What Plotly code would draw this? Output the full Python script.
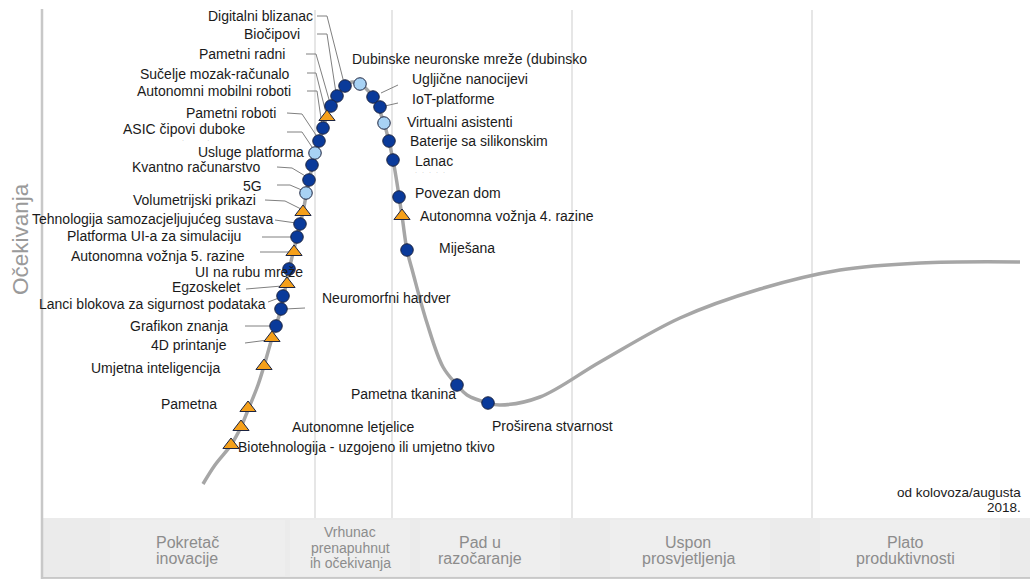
import plotly.graph_objects as go

# ---------------- data ----------------
# Hype-cycle curve: time position vs. expectations (screen-like units, y grows downward)
curve_time = [203, 215, 231, 241, 248, 258, 264, 272, 281, 289, 297, 303, 309, 316, 323, 331,
              345, 352, 360, 373, 384, 393, 402, 407, 413, 427, 443, 457, 467, 488, 500, 540,
              600, 680, 760, 840, 920, 1020]
curve_expect = [484, 465, 445, 427, 410, 385, 366, 338, 309, 270, 237, 212, 180, 153, 128, 106,
                86, 82, 84, 97, 123, 160, 216, 250, 273, 323, 367, 385, 395, 403, 405, 397,
                362, 318, 289, 270, 263, 262]

tech_names = [
    "Digitalni blizanac", "Biočipovi", "Pametni radni", "Sučelje mozak-računalo",
    "Autonomni mobilni roboti", "Pametni roboti", "ASIC čipovi duboke", "Usluge platforma",
    "Kvantno računarstvo", "5G", "Volumetrijski prikazi", "Tehnologija samozacjeljujućeg sustava",
    "Platforma UI-a za simulaciju", "Autonomna vožnja 5. razine", "UI na rubu mreže", "Egzoskelet",
    "Lanci blokova za sigurnost podataka", "Neuromorfni hardver", "Grafikon znanja", "4D printanje",
    "Umjetna inteligencija", "Pametna", "Autonomne letjelice",
    "Biotehnologija - uzgojeno ili umjetno tkivo",
    "Dubinske neuronske mreže (dubinsko", "Ugljične nanocijevi", "IoT-platforme",
    "Virtualni asistenti", "Baterije sa silikonskim", "Lanac", "Povezan dom",
    "Autonomna vožnja 4. razine", "Miješana", "Pametna tkanina", "Proširena stvarnost",
]
tech_time = [345, 337, 331, 327, 323, 319, 315, 312, 309, 306, 303, 300, 297, 294, 289, 287,
             283, 281, 276, 272, 264, 248, 241, 231,
             360, 373, 380, 384, 389, 393, 399, 402, 407, 457, 488]
tech_expect = [86, 96, 106, 117, 128, 141, 153, 165, 180, 193, 212, 224, 237, 252, 269, 284,
               296, 309, 326, 338, 366, 408, 427, 445,
               84, 97, 107, 123, 141, 160, 197, 216, 250, 385, 403]
# benefit class: 'a' dark blue circle, 'b' light blue circle, 'c' orange triangle
tech_kind = ["a", "a", "a", "c", "a", "a", "b", "a", "a", "b", "c", "a",
             "a", "c", "a", "c", "a", "a", "a", "c", "c", "c", "c", "c",
             "b", "a", "a", "b", "a", "a", "a", "c", "a", "a", "a"]

phase_names = [["Pokretač", "inovacije"],
               ["Vrhunac", "prenapuhnut", "ih očekivanja"],
               ["Pad u", "razočaranje"],
               ["Uspon", "prosvjetljenja"],
               ["Plato", "produktivnosti"]]
y_title = "Očekivanja"
date_note = ["od kolovoza/augusta", "2018."]

# ---------------- layout helpers (label placement) ----------------
# (anchor side, x, y) for each label
label_pos = [
    ("right", 315, 16), ("right", 302, 34), ("right", 287, 54), ("right", 292, 74),
    ("right", 293, 91), ("right", 278, 113), ("right", 247, 129), ("right", 306, 152),
    ("right", 263, 167), ("right", 264, 186), ("right", 258, 200), ("right", 275, 219),
    ("right", 243, 236), ("right", 247, 256), ("right", 305, 272), ("right", 243, 287),
    ("right", 268, 304), ("left", 320, 298), ("right", 230, 326), ("right", 229, 345),
    ("right", 222, 368), ("right", 219, 404), ("left", 290, 427), ("left", 236, 447),
    ("left", 350, 59), ("left", 410, 79), ("left", 410, 99), ("left", 405, 122),
    ("left", 408, 141), ("left", 413, 161), ("left", 413, 193), ("left", 418, 216),
    ("left", 437, 248), ("right", 458, 394), ("left", 490, 426),
]
# leader line polylines (start near label, end at marker)
leaders = [
    [(317, 16), (327, 16), (344, 83)],
    [(317, 34), (327, 34), (336, 93)],
    [(306, 54), (316, 54), (330, 103)],
    [(307, 73), (316, 73), (326, 113)],
    [(307, 91), (317, 91), (322, 125)],
    [(287, 113), (302, 114), (318, 138)],
    [(287, 132), (302, 132), (314, 150)],
    None,
    [(277, 167), (292, 168), (307, 177)],
    [(277, 185), (290, 185), (304, 191)],
    [(265, 200), (285, 201), (301, 209)],
    [(275, 220), (296, 223)],
    [(262, 237), (292, 237)],
    [(260, 252), (290, 252)],
    None,
    [(246, 289), (282, 286)],
    [(268, 302), (279, 298)],
    [(285, 309), (305, 308)],
    [(245, 326), (271, 326)],
    [(245, 343), (268, 340)],
    None, None, None, None,
    None,
    [(381, 93), (398, 85)],
    [(385, 106), (398, 103)],
    None, None, None, None, None, None, None, None,
]

FONT = "Liberation Sans, Arial, sans-serif"
fig = go.Figure()

# curve
fig.add_trace(go.Scatter(
    x=curve_time, y=curve_expect, mode="lines",
    line=dict(shape="spline", smoothing=1.0, color="#a6a6a6", width=3.5),
    hoverinfo="skip", showlegend=False))

# leader lines
lx, ly = [], []
for pts in leaders:
    if pts:
        for (a, b) in pts:
            lx.append(a)
            ly.append(b)
        lx.append(None)
        ly.append(None)
fig.add_trace(go.Scatter(x=lx, y=ly, mode="lines",
                         line=dict(color="#808080", width=1),
                         hoverinfo="skip", showlegend=False))

styles = {
    "a": dict(symbol="circle", size=12.5, color="#0a3a9a"),
    "b": dict(symbol="circle", size=12.5, color="#a8d2f4"),
    "c": dict(symbol="triangle-up", size=14, color="#f5a01a"),
}
for k in ["a", "b", "c"]:
    idx = [i for i, v in enumerate(tech_kind) if v == k]
    st = styles[k]
    fig.add_trace(go.Scatter(
        x=[tech_time[i] for i in idx], y=[tech_expect[i] for i in idx],
        mode="markers", text=[tech_names[i] for i in idx], hoverinfo="text",
        marker=dict(symbol=st["symbol"], size=st["size"], color=st["color"],
                    line=dict(color="#1c2440", width=1)),
        showlegend=False))

annotations = []
for name, (side, x, y) in zip(tech_names, label_pos):
    annotations.append(dict(x=x, y=y, xref="x", yref="y", text=name, showarrow=False,
                            xanchor=side, yanchor="middle",
                            font=dict(family=FONT, size=14, color="#1a1a1a")))
# clipped second lines (only a trace of them is visible)
annotations.append(dict(x=413, y=172, text="·   ·   ·   ·   ·", showarrow=False, xanchor="left",
                        yanchor="middle", font=dict(family=FONT, size=6, color="#999")))
annotations.append(dict(x=180, y=140, text="·              ·", showarrow=False, xanchor="left",
                        yanchor="middle", font=dict(family=FONT, size=6, color="#999")))

# phase labels in the bottom band
phase_centers = [187, 350, 480, 688, 905]
for names, cx in zip(phase_names, phase_centers):
    if len(names) == 3:
        ys, fs = [532, 548, 563], 14
    else:
        ys, fs = [542, 558], 16
    for t, yy in zip(names, ys):
        annotations.append(dict(x=cx, y=yy, text=t, showarrow=False, xanchor="center",
                                yanchor="middle", font=dict(family=FONT, size=fs, color="#8c8c8c")))

annotations.append(dict(x=1023, y=492, text=date_note[0], showarrow=False, xanchor="right",
                        yanchor="middle", font=dict(family=FONT, size=13.5, color="#1a1a1a")))
annotations.append(dict(x=1023, y=507, text=date_note[1], showarrow=False, xanchor="right",
                        yanchor="middle", font=dict(family=FONT, size=13.5, color="#1a1a1a")))
annotations.append(dict(x=20, y=239, text=y_title, showarrow=False, textangle=-90,
                        xanchor="center", yanchor="middle",
                        font=dict(family=FONT, size=22.5, color="#9a9a9a")))

shapes = []
# bottom band
shapes.append(dict(type="rect", x0=42, x1=1030, y0=518, y1=578, xref="x", yref="y",
                   fillcolor="#ebebeb", line=dict(width=0), layer="below"))
for a, b in [(110, 285), (290, 410), (420, 560), (610, 770), (820, 1000)]:
    shapes.append(dict(type="rect", x0=a, x1=b, y0=520, y1=576, xref="x", yref="y",
                       fillcolor="#eeeeee", line=dict(width=0), layer="below"))
shapes.append(dict(type="line", x0=42, x1=1030, y0=578, y1=578, xref="x", yref="y",
                   line=dict(color="#bdbdbd", width=1.5), layer="below"))
# vertical phase separators
for gx in [315, 392, 572, 812]:
    shapes.append(dict(type="line", x0=gx, x1=gx, y0=10, y1=518, xref="x", yref="y",
                       line=dict(color="#e6e6e6", width=2), layer="below"))
# left axis
shapes.append(dict(type="line", x0=42, x1=42, y0=9, y1=579, xref="x", yref="y",
                   line=dict(color="#c8c8c8", width=2.5), layer="below"))

fig.update_layout(
    width=1030, height=581,
    margin=dict(l=0, r=0, t=0, b=0),
    paper_bgcolor="white", plot_bgcolor="white",
    xaxis=dict(range=[0, 1030], visible=False, fixedrange=True),
    yaxis=dict(range=[581, 0], visible=False, fixedrange=True),
    shapes=shapes, annotations=annotations, showlegend=False,
)

fig.write_html("out.html", config={"displayModeBar": False},
               post_script="document.body.style.margin='0';document.body.style.overflow='hidden';")
